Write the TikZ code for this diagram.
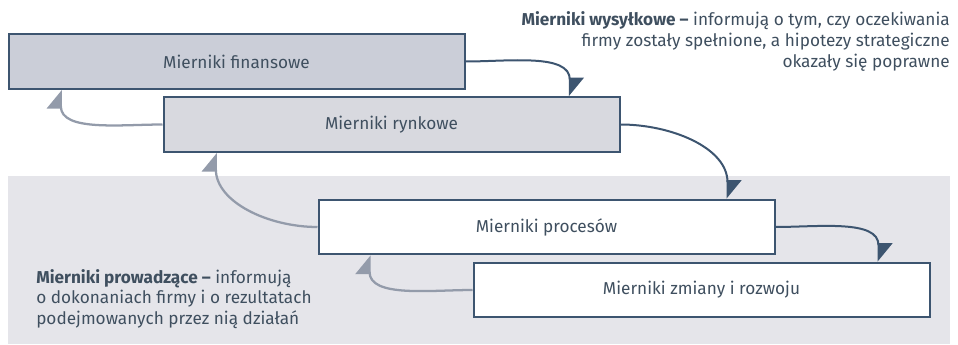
\documentclass[tikz,border=0pt]{standalone}
\usepackage{fontspec}
\setmainfont{Fira Sans}
\usetikzlibrary{arrows.meta}
\definecolor{ramka}{HTML}{3D5570}
\definecolor{szary}{HTML}{939BAA}
\definecolor{tlo}{HTML}{E5E5EA}
\definecolor{pole1}{HTML}{CBCED8}
\definecolor{pole2}{HTML}{D8D9DF}
\definecolor{tekst}{HTML}{3F4F5F}
\begin{document}
\begin{tikzpicture}[x=0.75pt, y=0.75pt,
	every node/.style={font=\fontsize{12.9pt}{15.5pt}\selectfont, text=tekst},
	miernik/.style={draw=ramka, line width=1.5pt, minimum width=342pt, minimum height=41pt, inner sep=0pt},
	opis/.style={inner sep=0pt},
	wprzod/.style={draw=ramka, line width=1.5pt, -{Triangle[harpoon, length=13pt, width=21pt]}},
	wstecz/.style={draw=szary, line width=1.7pt, -{Triangle[harpoon, length=13pt, width=21pt]}}]
	\useasboundingbox (0,0) rectangle (958,344);
	\fill[tlo] (8,0) rectangle (950,168);
	\node[miernik, fill=pole1] (fin) at (236.5,282.5) {Mierniki finansowe};
	\node[miernik, fill=pole2] (ryn) at (391.5,219.5) {Mierniki rynkowe};
	\node[miernik, fill=white] (proc) at (546.5,117) {Mierniki procesów};
	\node[miernik, fill=white] (zm) at (701.5,54) {Mierniki zmiany i rozwoju};
	\node[opis, anchor=north east, align=right] (wys) at (950,332.5) {\textbf{Mierniki wysyłkowe –} informują o tym, czy oczekiwania\\ firmy zostały spełnione, a hipotezy strategiczne\\ okazały się poprawne};
	\node[opis, anchor=north west, align=left] (pro) at (36,75) {\textbf{Mierniki prowadzące –} informują\\ o dokonaniach firmy i o rezultatach\\ podejmowanych przez nią działań};
	\draw[wprzod] (fin.east) to[out=0, in=90] ([xshift=-38pt]ryn.north east);
	\draw[wprzod] (ryn.east) to[out=0, in=90] ([xshift=-36pt]proc.north east);
	\draw[wprzod] (proc.east) to[out=0, in=90] ([xshift=-39pt]zm.north east);
	\draw[wstecz] (ryn.west) to[out=180, in=270] ([xshift=40pt]fin.south west);
	\draw[wstecz] (proc.west) to[out=180, in=270] ([xshift=40pt]ryn.south west);
	\draw[wstecz] (zm.west) to[out=180, in=270] ([xshift=39pt]proc.south west);
\end{tikzpicture}
\end{document}
